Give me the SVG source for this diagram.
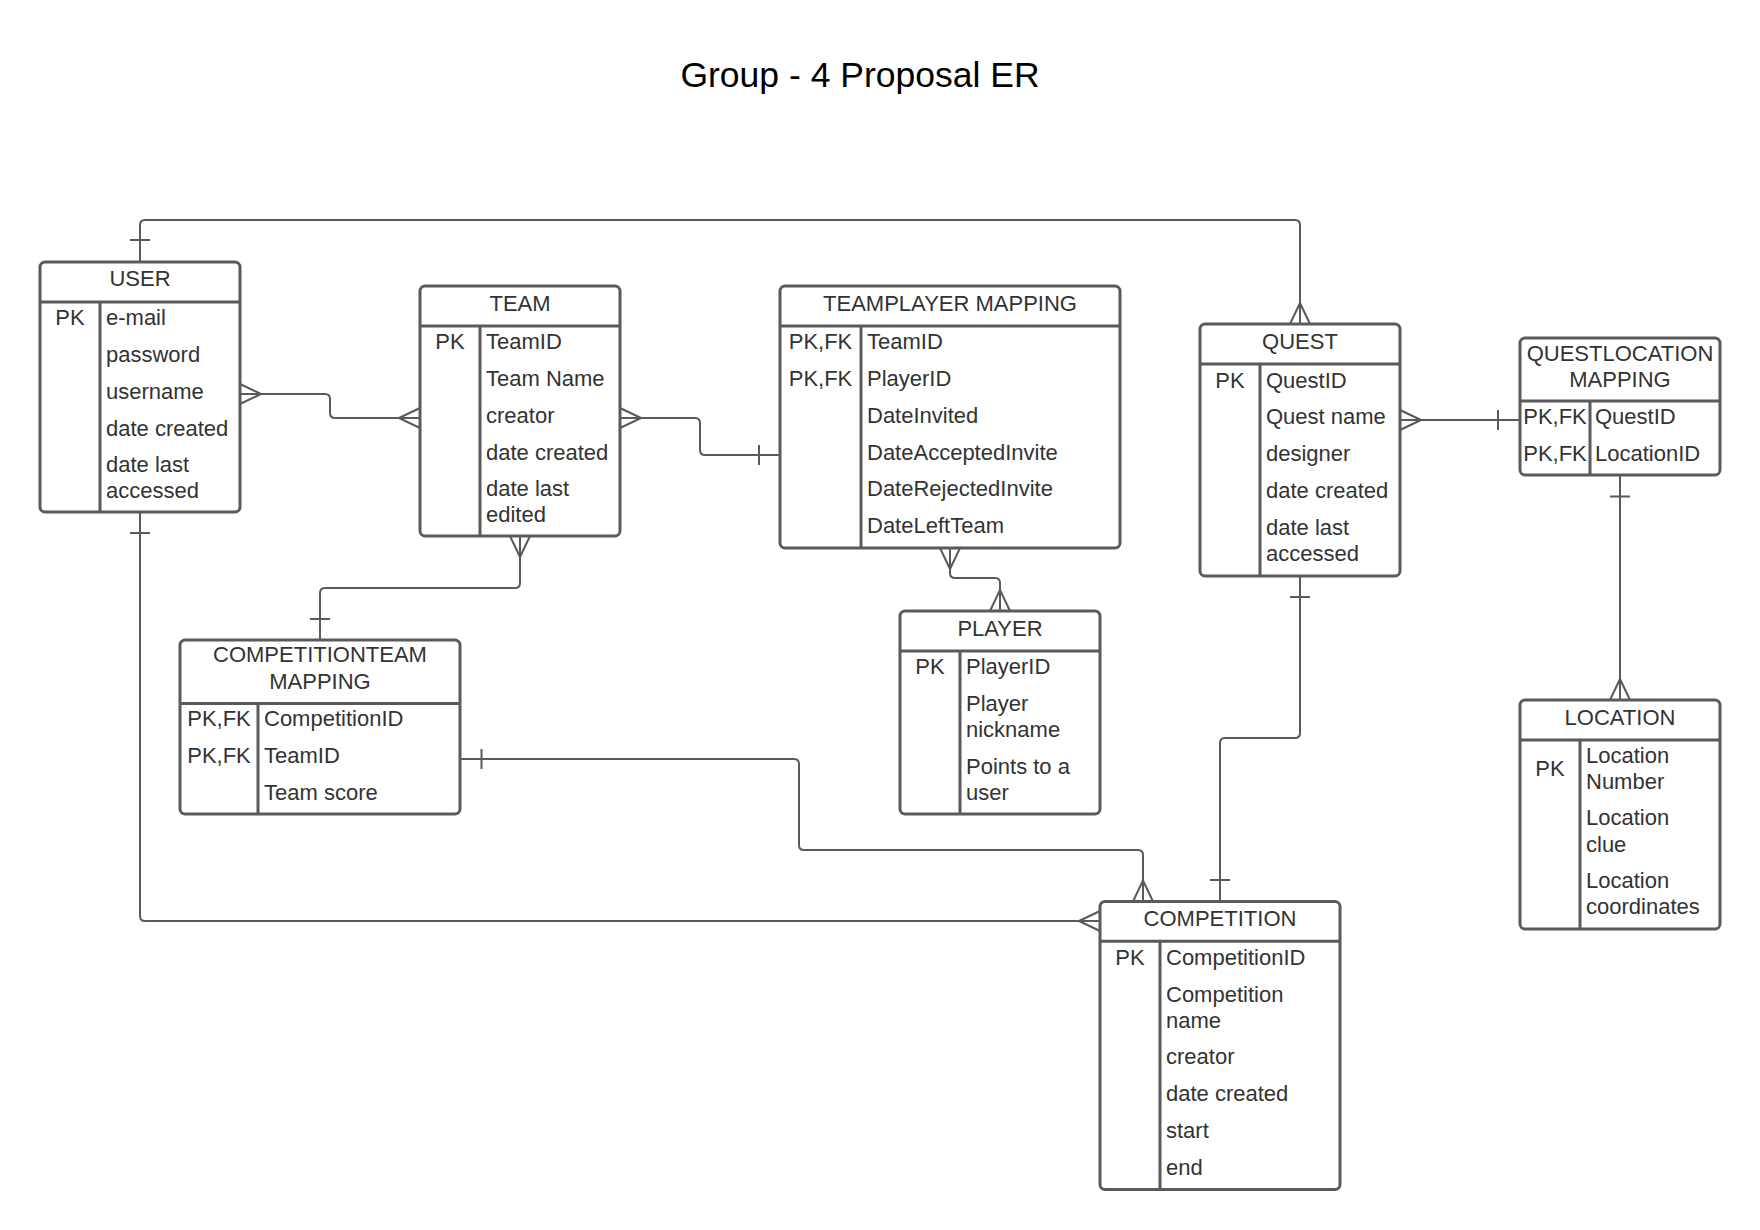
<svg xmlns="http://www.w3.org/2000/svg" width="1760" height="1230" viewBox="0 0 1760 1230">
<style>
.box{fill:#fff;stroke:#5a5a5a;stroke-width:3}
.ln{stroke:#5a5a5a;stroke-width:3;fill:none}
.c{fill:none;stroke:#5a5a5a;stroke-width:2;stroke-linejoin:round}
text{font-family:"Liberation Sans",Arial,Helvetica,sans-serif;font-size:22px;fill:#333}
.m{text-anchor:middle}
.title{font-size:35.5px;fill:#000;text-anchor:middle}
</style>
<rect width="1760" height="1230" fill="#fff"/>
<text class="title" x="860" y="86.5">Group - 4 Proposal ER</text>

<g id="connectors">
  <!-- USER top to QUEST top -->
  <path class="c" d="M140,262 V225 Q140,220 145,220 H1295 Q1300,220 1300,225 V324"/>
  <path class="c" d="M130,240 H150"/>
  <path class="c" d="M1290,324 L1300,303 L1310,324"/>
  <!-- USER right to TEAM left -->
  <path class="c" d="M240,394 H325 Q330,394 330,399 V413 Q330,418 335,418 H420"/>
  <path class="c" d="M240,384 L261,394 L240,404"/>
  <path class="c" d="M420,408 L399,418 L420,428"/>
  <!-- TEAM right to TEAMPLAYER left -->
  <path class="c" d="M620,418 H695 Q700,418 700,423 V450 Q700,455 705,455 H780"/>
  <path class="c" d="M620,408 L641,418 L620,428"/>
  <path class="c" d="M759,445 V465"/>
  <!-- TEAM bottom to COMPETITIONTEAM top -->
  <path class="c" d="M520,536 V583 Q520,588 515,588 H325 Q320,588 320,593 V640"/>
  <path class="c" d="M510,536 L520,557 L530,536"/>
  <path class="c" d="M310,619 H330"/>
  <!-- COMPETITIONTEAM right to COMPETITION top -->
  <path class="c" d="M460,759 H794 Q799,759 799,764 V845 Q799,850 804,850 H1138 Q1143,850 1143,855 V901.5"/>
  <path class="c" d="M481.5,749 V769"/>
  <path class="c" d="M1133,901.5 L1143,880.5 L1153,901.5"/>
  <!-- USER bottom to COMPETITION left -->
  <path class="c" d="M140,512 V916 Q140,921 145,921 H1100"/>
  <path class="c" d="M130,533 H150"/>
  <path class="c" d="M1100,911 L1079,921 L1100,931"/>
  <!-- TEAMPLAYER bottom to PLAYER top -->
  <path class="c" d="M950,548 V573 Q950,578 955,578 H995 Q1000,578 1000,583 V611"/>
  <path class="c" d="M940,548 L950,569 L960,548"/>
  <path class="c" d="M990,611 L1000,590 L1010,611"/>
  <!-- QUEST bottom to COMPETITION top -->
  <path class="c" d="M1300,576 V733 Q1300,738 1295,738 H1225 Q1220,738 1220,743 V901.5"/>
  <path class="c" d="M1290,597 H1310"/>
  <path class="c" d="M1210,880 H1230"/>
  <!-- QUEST right to QUESTLOCATION left -->
  <path class="c" d="M1400,420 H1520"/>
  <path class="c" d="M1400,410 L1421,420 L1400,430"/>
  <path class="c" d="M1498,410 V430"/>
  <!-- QUESTLOCATION bottom to LOCATION top -->
  <path class="c" d="M1620,475 V700"/>
  <path class="c" d="M1610,496.5 H1630"/>
  <path class="c" d="M1610,700 L1620,679 L1630,700"/>
</g>

<g id="user">
  <rect class="box" x="40" y="262" width="200" height="250" rx="5"/>
  <path class="ln" d="M40,302 H240 M100,302 V512"/>
  <text class="m" x="140" y="286.3">USER</text>
  <text class="m" x="70" y="325.3">PK</text>
  <text x="106" y="325.3">e-mail</text>
  <text x="106" y="362">password</text>
  <text x="106" y="398.8">username</text>
  <text x="106" y="435.6">date created</text>
  <text x="106" y="472.4">date last</text>
  <text x="106" y="498.4">accessed</text>
</g>

<g id="team">
  <rect class="box" x="420" y="286" width="200" height="250" rx="5"/>
  <path class="ln" d="M420,326 H620 M480,326 V536"/>
  <text class="m" x="520" y="310.5">TEAM</text>
  <text class="m" x="450" y="349.3">PK</text>
  <text x="486" y="349.3">TeamID</text>
  <text x="486" y="386">Team Name</text>
  <text x="486" y="422.8">creator</text>
  <text x="486" y="459.6">date created</text>
  <text x="486" y="496.4">date last</text>
  <text x="486" y="522.4">edited</text>
</g>

<g id="teamplayer-mapping">
  <rect class="box" x="780" y="286" width="340" height="262" rx="5"/>
  <path class="ln" d="M780,326 H1120 M861,326 V548"/>
  <text class="m" x="950" y="310.5">TEAMPLAYER MAPPING</text>
  <text class="m" x="820.5" y="349.3">PK,FK</text>
  <text class="m" x="820.5" y="386">PK,FK</text>
  <text x="867" y="349.3">TeamID</text>
  <text x="867" y="386">PlayerID</text>
  <text x="867" y="422.8">DateInvited</text>
  <text x="867" y="459.6">DateAcceptedInvite</text>
  <text x="867" y="496.4">DateRejectedInvite</text>
  <text x="867" y="533.2">DateLeftTeam</text>
</g>

<g id="quest">
  <rect class="box" x="1200" y="324" width="200" height="252" rx="5"/>
  <path class="ln" d="M1200,364 H1400 M1260,364 V576"/>
  <text class="m" x="1300" y="348.5">QUEST</text>
  <text class="m" x="1230" y="387.5">PK</text>
  <text x="1266" y="387.5">QuestID</text>
  <text x="1266" y="424.3">Quest name</text>
  <text x="1266" y="461.1">designer</text>
  <text x="1266" y="497.9">date created</text>
  <text x="1266" y="534.7">date last</text>
  <text x="1266" y="560.7">accessed</text>
</g>

<g id="questlocation-mapping">
  <rect class="box" x="1520" y="338" width="200" height="137" rx="5"/>
  <path class="ln" d="M1520,401 H1720 M1590,401 V475"/>
  <text class="m" x="1620" y="361">QUESTLOCATION</text>
  <text class="m" x="1620" y="387">MAPPING</text>
  <text class="m" x="1555" y="424.3">PK,FK</text>
  <text class="m" x="1555" y="461.1">PK,FK</text>
  <text x="1595" y="424.3">QuestID</text>
  <text x="1595" y="461.1">LocationID</text>
</g>

<g id="location">
  <rect class="box" x="1520" y="700" width="200" height="229" rx="5"/>
  <path class="ln" d="M1520,740 H1720 M1580,740 V929"/>
  <text class="m" x="1620" y="724.5">LOCATION</text>
  <text class="m" x="1550" y="776">PK</text>
  <text x="1586" y="762.7">Location</text>
  <text x="1586" y="789">Number</text>
  <text x="1586" y="825.3">Location</text>
  <text x="1586" y="851.5">clue</text>
  <text x="1586" y="888.3">Location</text>
  <text x="1586" y="914.3">coordinates</text>
</g>

<g id="player">
  <rect class="box" x="900" y="611" width="200" height="203" rx="5"/>
  <path class="ln" d="M900,651 H1100 M960,651 V814"/>
  <text class="m" x="1000" y="635.5">PLAYER</text>
  <text class="m" x="930" y="674">PK</text>
  <text x="966" y="674">PlayerID</text>
  <text x="966" y="710.5">Player</text>
  <text x="966" y="736.8">nickname</text>
  <text x="966" y="773.5">Points to a</text>
  <text x="966" y="799.5">user</text>
</g>

<g id="competitionteam-mapping">
  <rect class="box" x="180" y="640" width="280" height="174" rx="5"/>
  <path class="ln" d="M180,703.5 H460 M258,703.5 V814"/>
  <text class="m" x="320" y="662.3">COMPETITIONTEAM</text>
  <text class="m" x="320" y="688.5">MAPPING</text>
  <text class="m" x="219" y="726">PK,FK</text>
  <text class="m" x="219" y="762.8">PK,FK</text>
  <text x="264" y="726">CompetitionID</text>
  <text x="264" y="762.8">TeamID</text>
  <text x="264" y="799.6">Team score</text>
</g>

<g id="competition">
  <rect class="box" x="1100" y="901.5" width="240" height="288" rx="5"/>
  <path class="ln" d="M1100,941.3 H1340 M1160,941.3 V1189.5"/>
  <text class="m" x="1220" y="926">COMPETITION</text>
  <text class="m" x="1130" y="964.5">PK</text>
  <text x="1166" y="964.5">CompetitionID</text>
  <text x="1166" y="1001.5">Competition</text>
  <text x="1166" y="1027.6">name</text>
  <text x="1166" y="1064.3">creator</text>
  <text x="1166" y="1101">date created</text>
  <text x="1166" y="1138">start</text>
  <text x="1166" y="1174.8">end</text>
</g>
</svg>
